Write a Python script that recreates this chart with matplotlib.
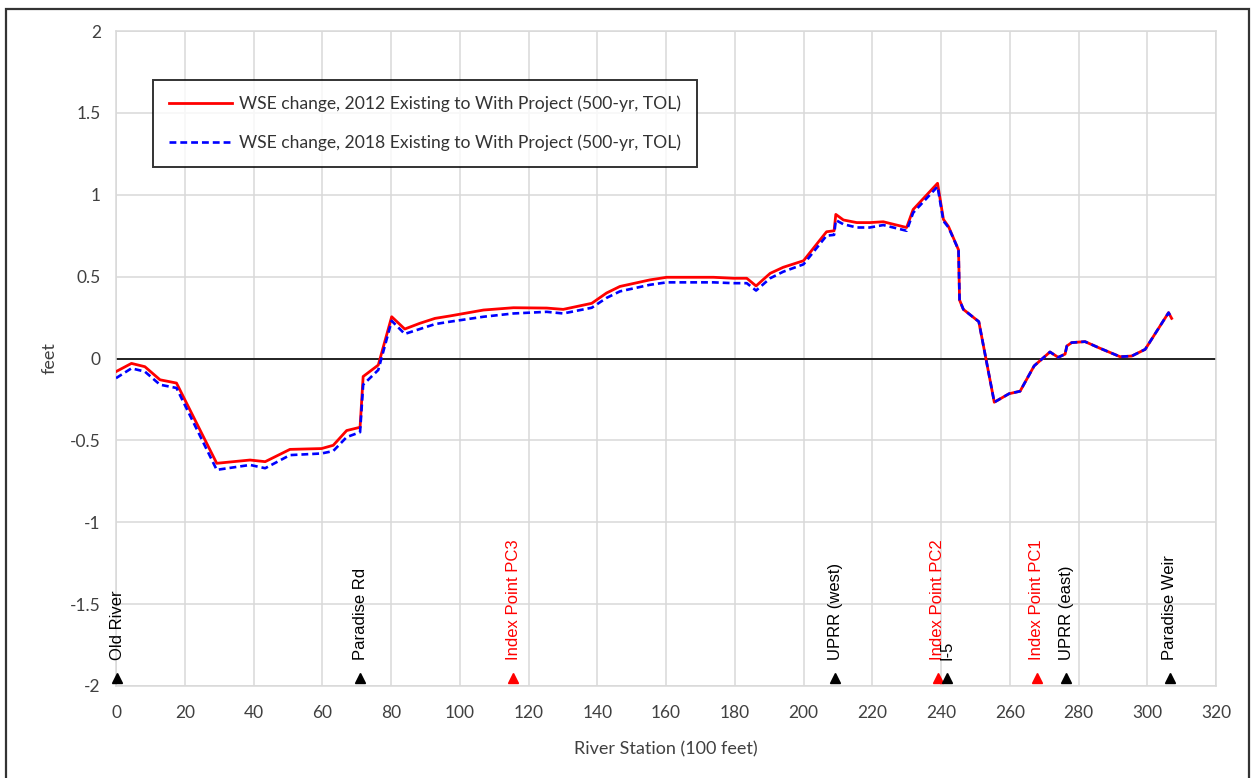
import matplotlib
matplotlib.use("Agg")
import matplotlib.pyplot as plt
from matplotlib.patches import Rectangle

plt.rcParams["axes.unicode_minus"] = False

# River station (100 ft) and water-surface-elevation change (ft)
station = [0.0, 4.5, 8.4, 12.8, 17.6, 29.3, 39.0, 43.4, 50.6, 59.8, 63.2, 67.1,
           71.0, 71.9, 76.3, 80.2, 84.0, 88.4, 92.8, 97.2, 106.9, 115.6, 125.3,
           130.1, 138.4, 142.7, 146.6, 155.3, 160.2, 173.8, 179.6, 183.5, 186.2,
           190.3, 194.1, 200.0, 206.7, 208.9, 209.4, 211.6, 215.5, 219.3, 223.2,
           230.0, 231.9, 239.0, 240.7, 242.2, 245.1, 245.4, 246.5, 251.0, 255.5,
           259.8, 263.0, 267.1, 271.7, 274.1, 276.1, 276.6, 278.0, 281.9, 286.3,
           292.1, 295.5, 299.4, 306.2, 307.1]
wse_2012 = [-0.08, -0.03, -0.05, -0.13, -0.15, -0.64, -0.62, -0.63, -0.555, -0.55,
            -0.53, -0.44, -0.42, -0.11, -0.04, 0.255, 0.18, 0.215, 0.245, 0.26,
            0.296, 0.31, 0.308, 0.30, 0.337, 0.40, 0.44, 0.48, 0.496, 0.496, 0.49,
            0.49, 0.443, 0.52, 0.557, 0.597, 0.774, 0.78, 0.88, 0.846, 0.83, 0.83,
            0.835, 0.80, 0.91, 1.07, 0.85, 0.805, 0.663, 0.357, 0.30, 0.225,
            -0.267, -0.215, -0.20, -0.045, 0.04, 0.007, 0.027, 0.076, 0.097,
            0.103, 0.062, 0.011, 0.015, 0.056, 0.28, 0.245]
wse_2018 = [-0.12, -0.06, -0.08, -0.16, -0.18, -0.68, -0.65, -0.67, -0.59, -0.58,
            -0.565, -0.48, -0.45, -0.16, -0.07, 0.23, 0.15, 0.18, 0.21, 0.225,
            0.255, 0.275, 0.285, 0.275, 0.31, 0.37, 0.41, 0.45, 0.465, 0.465, 0.46,
            0.46, 0.415, 0.49, 0.53, 0.575, 0.75, 0.755, 0.845, 0.82, 0.80, 0.80,
            0.815, 0.78, 0.89, 1.05, 0.84, 0.80, 0.663, 0.357, 0.30, 0.225,
            -0.267, -0.215, -0.20, -0.045, 0.04, 0.007, 0.027, 0.076, 0.097,
            0.103, 0.062, 0.011, 0.015, 0.056, 0.28, 0.245]

# Landmarks along the river
landmark_names = ["Old River", "Paradise Rd", "Index Point PC3", "UPRR (west)",
                  "Index Point PC2", "I-5", "Index Point PC1", "UPRR (east)",
                  "Paradise Weir"]
landmark_station = [0.3, 71.0, 115.5, 209.2, 239.1, 241.7, 267.9, 276.4, 306.6]
landmark_is_index = [False, False, True, False, True, False, True, False, False]

label_2012 = "WSE change, 2012 Existing to With Project (500-yr, TOL)"
label_2018 = "WSE change, 2018 Existing to With Project (500-yr, TOL)"

W, H = 1252, 778
fig = plt.figure(figsize=(W / 100, H / 100), dpi=100)
ax = fig.add_axes([116 / W, 1 - 686 / H, 1100 / W, 655 / H])

tick_font = "Lato"
text_font = "Liberation Sans"

ax.set_xlim(0, 320)
ax.set_ylim(-2, 2)
ax.set_xticks(range(0, 321, 20))
ax.set_yticks([-2, -1.5, -1, -0.5, 0, 0.5, 1, 1.5, 2])
ax.set_yticklabels(["-2", "-1.5", "-1", "-0.5", "0", "0.5", "1", "1.5", "2"])
ax.grid(True, color="#d9d9d9", linewidth=1.1)
ax.set_axisbelow(True)
for sp in ax.spines.values():
    sp.set_color("#d9d9d9")
    sp.set_linewidth(1.1)
ax.tick_params(length=0, labelsize=12.5, colors="#404040")
ax.tick_params(axis="x", pad=14)
ax.tick_params(axis="y", pad=11)
for lab in ax.get_xticklabels() + ax.get_yticklabels():
    lab.set_fontfamily(tick_font)

ax.axhline(0, color="#222222", linewidth=1.4, zorder=2)

ax.plot(station, wse_2012, color="#ff0000", linewidth=2.0, label=label_2012, zorder=3)
ax.plot(station, wse_2018, color="#0000ff", linewidth=1.9,
        linestyle=(0, (2.6, 1.5)), label=label_2018, zorder=4)

for name, st, idx in zip(landmark_names, landmark_station, landmark_is_index):
    col = "#ff0000" if idx else "#000000"
    ax.plot([st], [-1.95], marker="^", color=col, markersize=6.5,
            linestyle="none", zorder=5, clip_on=False)
    ax.text(st, -1.84, name, rotation=90, ha="center", va="bottom",
            color=col, fontsize=12, fontfamily=text_font, zorder=5)

ax.set_xlabel("River Station (100 feet)", fontsize=13, fontfamily=tick_font,
              color="#404040", labelpad=14)
ax.set_ylabel("feet", fontsize=13, fontfamily=tick_font, color="#404040")
ax.yaxis.set_label_coords(-58 / 1100, 0.5)

leg = ax.legend(loc="upper left", bbox_to_anchor=(37 / 1100, 1 - 49 / 655),
                frameon=True, fancybox=False, edgecolor="#000000",
                handlelength=3.6, labelspacing=1.25, borderpad=0.9,
                handletextpad=0.4, borderaxespad=0,
                prop={"family": tick_font, "size": 12.6})
leg.get_frame().set_linewidth(1.4)
for t in leg.get_texts():
    t.set_color("#333333")

# Outer border around the figure
fig.patches.append(Rectangle((6 / W, -0.01), 1243 / W, 1 - 9 / H + 0.01,
                             transform=fig.transFigure, fill=False,
                             edgecolor="#333333", linewidth=1.6))

fig.savefig("out.png", dpi=100)
